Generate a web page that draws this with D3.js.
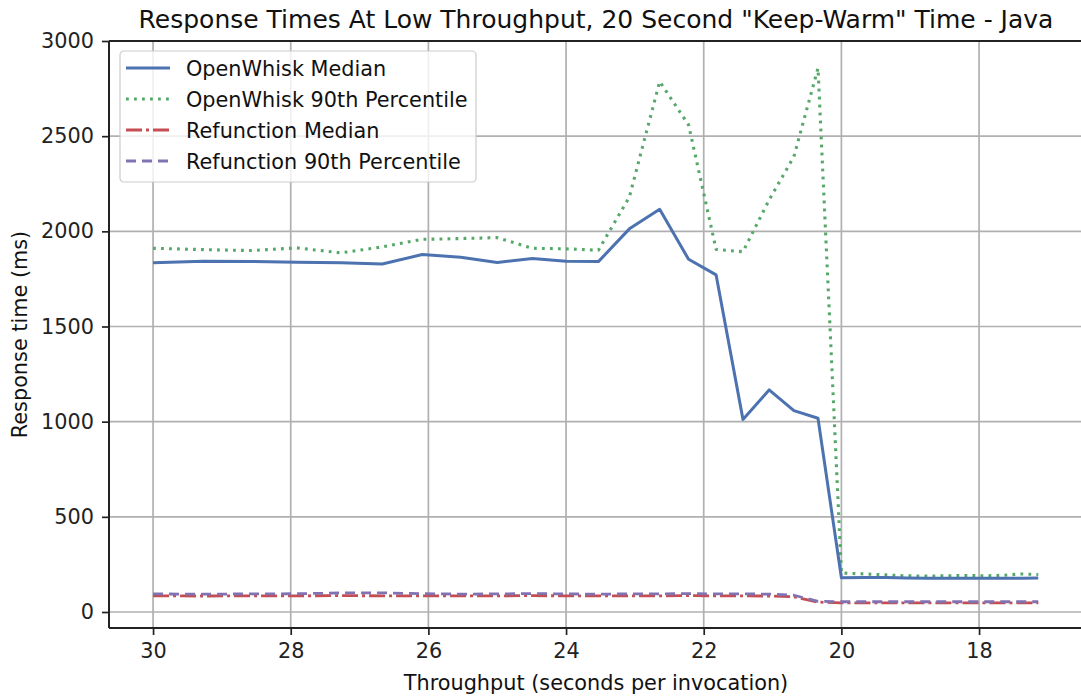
<!DOCTYPE html>
<html>
<head>
<meta charset="utf-8">
<script src="https://cdn.jsdelivr.net/npm/d3@7"></script>
<style>
    body { margin: 0; background: #fff; }
    svg { display: block; font-family: "DejaVu Sans", sans-serif; }
</style>
</head>
<body>
<div id="chart"></div>
<script>
// Data
const throughput = [30, 29.27, 28.57, 27.91, 27.27, 26.67, 26.09, 25.53, 25, 24.49, 24, 23.53, 23.08, 22.64, 22.22, 21.82,
    21.43, 21.05, 20.69, 20.34, 20, 19.67, 19.35, 19.05, 18.75, 18.46, 18.18, 17.91, 17.65, 17.39, 17.14];
const owMedian = [1835, 1843, 1842, 1838, 1835, 1828, 1878, 1864, 1836, 1857, 1843, 1841, 2013, 2116, 1853, 1771,
    1012, 1167, 1058, 1018, 180, 181, 181, 179, 178, 177, 177, 177, 178, 178, 179];
const ow90 = [1911, 1904, 1899, 1913, 1887, 1918, 1958, 1962, 1967, 1911, 1908, 1901, 2180, 2787, 2559, 1905,
    1893, 2165, 2393, 2857, 205, 200, 195, 190, 189, 190, 192, 190, 193, 200, 197];
const refMedian = [85, 84, 85, 85, 86, 85, 85, 85, 85, 86, 85, 85, 85, 85, 86, 85,
    85, 84, 80, 52, 48, 48, 48, 48, 48, 48, 48, 48, 48, 48, 48];
const ref90 = [95, 94, 95, 96, 100, 101, 96, 94, 95, 97, 95, 94, 95, 95, 97, 95,
    95, 94, 88, 56, 54, 54, 54, 54, 54, 54, 54, 54, 54, 54, 54];
const xTicks = [30, 28, 26, 24, 22, 20, 18];
const yTicks = [0, 500, 1000, 1500, 2000, 2500, 3000];

const seriesNames = ['OpenWhisk Median', 'OpenWhisk 90th Percentile', 'Refunction Median', 'Refunction 90th Percentile'];

function drawChart() {
    const width = 1081, height = 696;
    const margin = { top: 41, right: -2, bottom: 68, left: 109 };
    const fontSize = 20.8;

    const svg = d3.select('#chart')
        .append('svg')
        .attr('width', width)
        .attr('height', height);

    const x = d3.scaleLinear()
        .domain([30.64, 16.49])
        .range([margin.left, width - margin.right]);

    const y = d3.scaleLinear()
        .domain([-84, 3000])
        .range([height - margin.bottom, margin.top]);

    // grid
    svg.append('g')
        .selectAll('line')
        .data(xTicks)
        .enter()
        .append('line')
        .attr('x1', d => x(d)).attr('x2', d => x(d))
        .attr('y1', margin.top).attr('y2', height - margin.bottom)
        .attr('stroke', '#b0b0b0').attr('stroke-width', 1.7);

    svg.append('g')
        .selectAll('line')
        .data(yTicks)
        .enter()
        .append('line')
        .attr('x1', margin.left).attr('x2', width - margin.right)
        .attr('y1', d => y(d)).attr('y2', d => y(d))
        .attr('stroke', '#b0b0b0').attr('stroke-width', 1.7);

    // lines
    const series = [
        { name: seriesNames[2], values: refMedian, color: '#c44e52', dash: '16,4,3,4', width: 2.8 },
        { name: seriesNames[3], values: ref90, color: '#8172b2', dash: '10,6', width: 2.8 },
        { name: seriesNames[1], values: ow90, color: '#55a868', dash: '2.8,5.2', width: 3.1 },
        { name: seriesNames[0], values: owMedian, color: '#4c72b0', dash: null, width: 3 }
    ];

    series.forEach(s => {
        const line = d3.line()
            .x((d, i) => x(throughput[i]))
            .y(d => y(d));
        svg.append('path')
            .datum(s.values)
            .attr('d', line)
            .attr('fill', 'none')
            .attr('stroke', s.color)
            .attr('stroke-width', s.width)
            .attr('stroke-dasharray', s.dash)
            .attr('stroke-linejoin', 'round');
    });

    // axes
    const xAxis = svg.append('g')
        .attr('transform', `translate(0,${height - margin.bottom})`)
        .call(d3.axisBottom(x).tickValues(xTicks).tickSize(7).tickPadding(8).tickFormat(d3.format('d')));

    const yAxis = svg.append('g')
        .attr('transform', `translate(${margin.left},0)`)
        .call(d3.axisLeft(y).tickValues(yTicks).tickSize(7).tickPadding(8).tickFormat(d3.format('d')));

    [xAxis, yAxis].forEach(g => {
        g.select('.domain').remove();
        g.selectAll('.tick line').attr('stroke', '#222').attr('stroke-width', 1.7);
        g.selectAll('.tick text')
            .attr('font-size', fontSize)
            .attr('font-family', '"DejaVu Sans", sans-serif')
            .attr('fill', '#222');
    });

    // spines: left, bottom, top
    svg.append('line')
        .attr('x1', margin.left).attr('x2', margin.left)
        .attr('y1', margin.top).attr('y2', height - margin.bottom)
        .attr('stroke', '#222').attr('stroke-width', 2);
    svg.append('line')
        .attr('x1', margin.left).attr('x2', width)
        .attr('y1', height - margin.bottom).attr('y2', height - margin.bottom)
        .attr('stroke', '#222').attr('stroke-width', 2);
    svg.append('line')
        .attr('x1', margin.left).attr('x2', width)
        .attr('y1', margin.top).attr('y2', margin.top)
        .attr('stroke', '#222').attr('stroke-width', 2);

    // title and labels
    svg.append('text')
        .attr('x', (margin.left + width - margin.right) / 2)
        .attr('y', 28)
        .attr('text-anchor', 'middle')
        .attr('font-size', 25)
        .attr('fill', '#111')
        .text('Response Times At Low Throughput, 20 Second "Keep-Warm" Time - Java');

    svg.append('text')
        .attr('x', (margin.left + width - margin.right) / 2)
        .attr('y', 690)
        .attr('text-anchor', 'middle')
        .attr('font-size', fontSize)
        .attr('fill', '#111')
        .text('Throughput (seconds per invocation)');

    svg.append('text')
        .attr('transform', `translate(27,${(margin.top + height - margin.bottom) / 2}) rotate(-90)`)
        .attr('text-anchor', 'middle')
        .attr('font-size', fontSize)
        .attr('fill', '#111')
        .text('Response time (ms)');

    // legend
    const legend = svg.append('g').attr('transform', 'translate(120,51)');
    legend.append('rect')
        .attr('width', 356).attr('height', 131)
        .attr('rx', 4)
        .attr('fill', 'rgba(255,255,255,0.8)')
        .attr('stroke', '#cccccc').attr('stroke-width', 1.2);

    const legendOrder = [series[3], series[2], series[0], series[1]];
    legendOrder.forEach((s, i) => {
        const cy = 17 + i * 31;
        legend.append('line')
            .attr('x1', 6).attr('x2', 50)
            .attr('y1', cy).attr('y2', cy)
            .attr('stroke', s.color)
            .attr('stroke-width', s.width)
            .attr('stroke-dasharray', s.dash);
        legend.append('text')
            .attr('x', 66).attr('y', cy + 7.5)
            .attr('font-size', fontSize)
            .attr('fill', '#111')
            .text(s.name);
    });
}

document.addEventListener('DOMContentLoaded', () => {
    drawChart();
});
</script>
</body>
</html>
